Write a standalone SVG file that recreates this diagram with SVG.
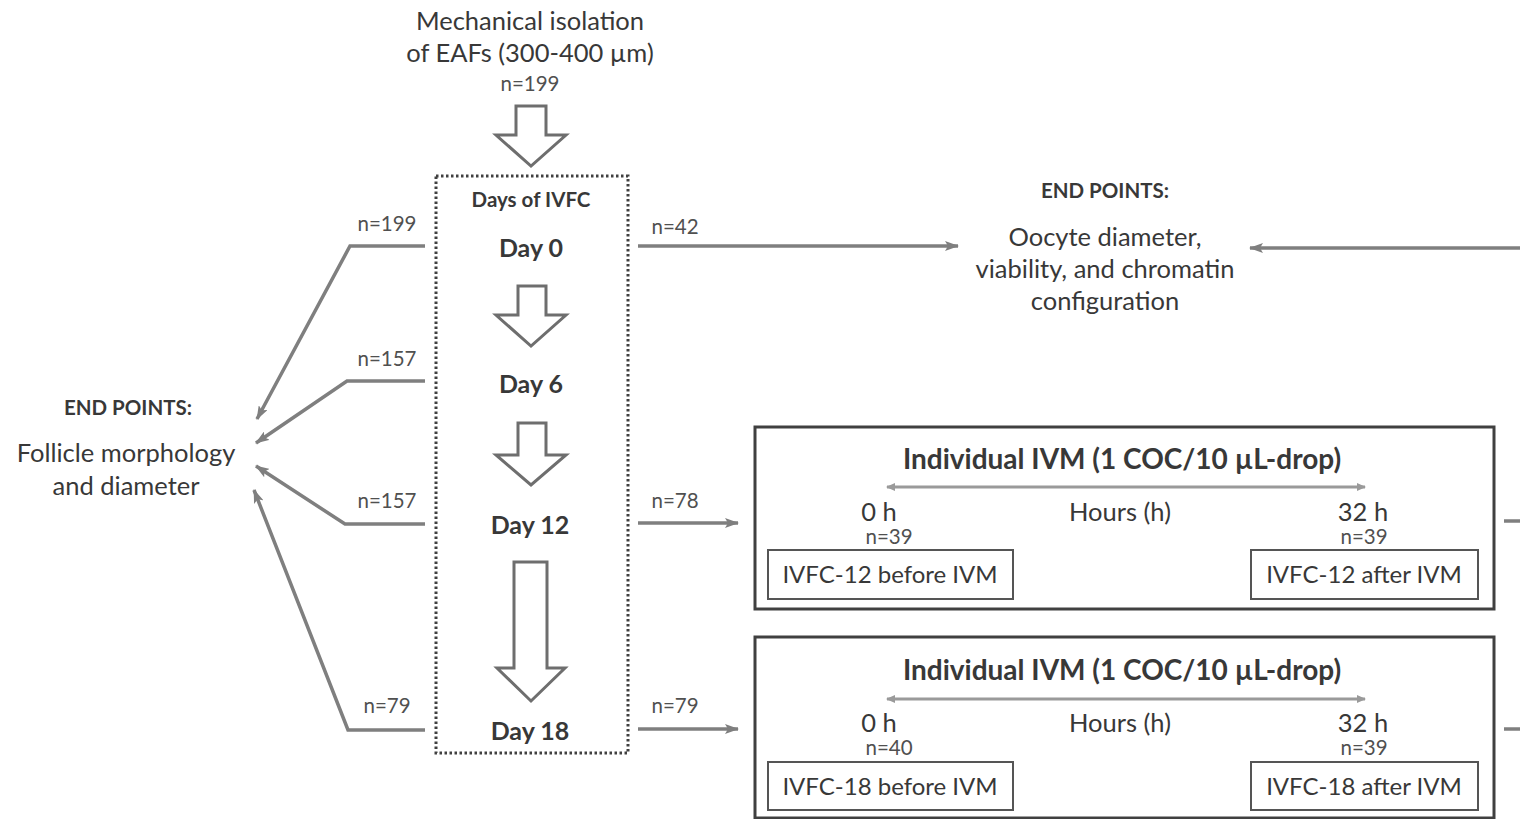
<svg xmlns="http://www.w3.org/2000/svg" width="1520" height="819" viewBox="0 0 1520 819">
<style>
text{font-family:Lato,"Open Sans","Liberation Sans",sans-serif;fill:#383838;text-anchor:middle}
.t{font-size:25.5px}
.s{font-size:24px}
.n{font-size:20.5px;fill:#505050}
.b{font-weight:bold}
.ep{font-size:20.5px;font-weight:bold}
.day{font-size:25px;font-weight:bold}
.ttl{font-size:28px;font-weight:bold}
.con{fill:none;stroke:#7f7f7f;stroke-width:3.5}
.blk{fill:#fff;stroke:#6e6e6e;stroke-width:3}
.box{fill:#fff;stroke:#404040;stroke-width:3}
.ibox{fill:#fff;stroke:#555;stroke-width:2}
</style>
<defs>
<marker id="ah" viewBox="0 0 14 10" refX="13" refY="5" markerWidth="14" markerHeight="10" markerUnits="userSpaceOnUse" orient="auto">
<path d="M0,0 L14,5 L0,10 L3,5 Z" fill="#7f7f7f"/>
</marker>
<marker id="dh" viewBox="0 0 10 10" refX="8" refY="5" markerWidth="10" markerHeight="10" markerUnits="userSpaceOnUse" orient="auto-start-reverse">
<path d="M0,1 L9,5 L0,9 Z" fill="#9a9a9a"/>
</marker>
</defs>

<g id="top-node">
<text class="t" x="530" y="30">Mechanical isolation</text>
<text class="t" x="530" y="62">of EAFs (300-400 µm)</text>
<text class="n" x="530" y="91">n=199</text>
<path class="blk" d="M516,106 H546 V135 H566 L531,166 L496,135 H516 Z"/>
</g>

<g id="ivfc">
<rect x="436" y="176" width="192" height="577" fill="none" stroke="#404040" stroke-width="3" stroke-dasharray="2.5 2.5"/>
<text class="ep" x="531" y="207">Days of IVFC</text>
<text class="day" x="531" y="257">Day 0</text>
<path class="blk" d="M518,286 H546 V315 H566 L531,346 L496,315 H518 Z"/>
<text class="day" x="531" y="393">Day 6</text>
<path class="blk" d="M518,423 H546 V455 H566 L531,485 L496,455 H518 Z"/>
<text class="day" x="530" y="534">Day 12</text>
<path class="blk" d="M514,562 H547 V668 H565 L531,701 L497,668 H514 Z"/>
<text class="day" x="530" y="740">Day 18</text>
</g>

<g id="left-endpoints">
<text class="ep" x="128" y="415">END POINTS:</text>
<text class="t" x="126" y="462">Follicle morphology</text>
<text class="t" x="126" y="495">and diameter</text>
</g>

<g id="right-endpoints">
<text class="ep" x="1105" y="198">END POINTS:</text>
<text class="t" x="1105" y="246">Oocyte diameter,</text>
<text class="t" x="1105" y="278">viability, and chromatin</text>
<text class="t" x="1105" y="310">configuration</text>
</g>

<g id="ivm12">
<rect class="box" x="755" y="427" width="739" height="182"/>
<text class="ttl" x="1122" y="469">Individual IVM (1 COC/10 µL-drop)</text>
<line x1="887" y1="487" x2="1365" y2="487" stroke="#9a9a9a" stroke-width="3" marker-start="url(#dh)" marker-end="url(#dh)"/>
<text class="t" x="879" y="521">0 h</text>
<text class="n" x="889" y="544">n=39</text>
<text class="t" x="1120" y="521">Hours (h)</text>
<text class="t" x="1363" y="521">32 h</text>
<text class="n" x="1364" y="544">n=39</text>
<rect class="ibox" x="768" y="550" width="245" height="49"/>
<text class="s" x="890" y="583">IVFC-12 before IVM</text>
<rect class="ibox" x="1251" y="550" width="227" height="49"/>
<text class="s" x="1364" y="583">IVFC-12 after IVM</text>
</g>

<g id="ivm18">
<rect class="box" x="755" y="637" width="739" height="181"/>
<text class="ttl" x="1122" y="680">Individual IVM (1 COC/10 µL-drop)</text>
<line x1="887" y1="699" x2="1365" y2="699" stroke="#9a9a9a" stroke-width="3" marker-start="url(#dh)" marker-end="url(#dh)"/>
<text class="t" x="879" y="732">0 h</text>
<text class="n" x="889" y="755">n=40</text>
<text class="t" x="1120" y="732">Hours (h)</text>
<text class="t" x="1363" y="732">32 h</text>
<text class="n" x="1364" y="755">n=39</text>
<rect class="ibox" x="768" y="762" width="245" height="48"/>
<text class="s" x="890" y="795">IVFC-18 before IVM</text>
<rect class="ibox" x="1251" y="762" width="227" height="48"/>
<text class="s" x="1364" y="795">IVFC-18 after IVM</text>
</g>

<g id="connectors">
<polyline class="con" points="425,246 350,246 257,419" marker-end="url(#ah)"/>
<polyline class="con" points="425,381 347,381 256,443" marker-end="url(#ah)"/>
<polyline class="con" points="425,524 345,524 256,466" marker-end="url(#ah)"/>
<polyline class="con" points="425,730 348,730 254,490" marker-end="url(#ah)"/>
<line class="con" x1="638" y1="246" x2="958" y2="246" marker-end="url(#ah)"/>
<line class="con" x1="1520" y1="248" x2="1250" y2="248" marker-end="url(#ah)"/>
<line class="con" x1="638" y1="523" x2="738" y2="523" marker-end="url(#ah)"/>
<line class="con" x1="638" y1="729" x2="738" y2="729" marker-end="url(#ah)"/>
<line class="con" x1="1504" y1="521" x2="1520" y2="521"/>
<line class="con" x1="1504" y1="729" x2="1520" y2="729"/>
<text class="n" x="387" y="231">n=199</text>
<text class="n" x="387" y="366">n=157</text>
<text class="n" x="387" y="508">n=157</text>
<text class="n" x="387" y="713">n=79</text>
<text class="n" x="675" y="234">n=42</text>
<text class="n" x="675" y="508">n=78</text>
<text class="n" x="675" y="713">n=79</text>
</g>
</svg>
